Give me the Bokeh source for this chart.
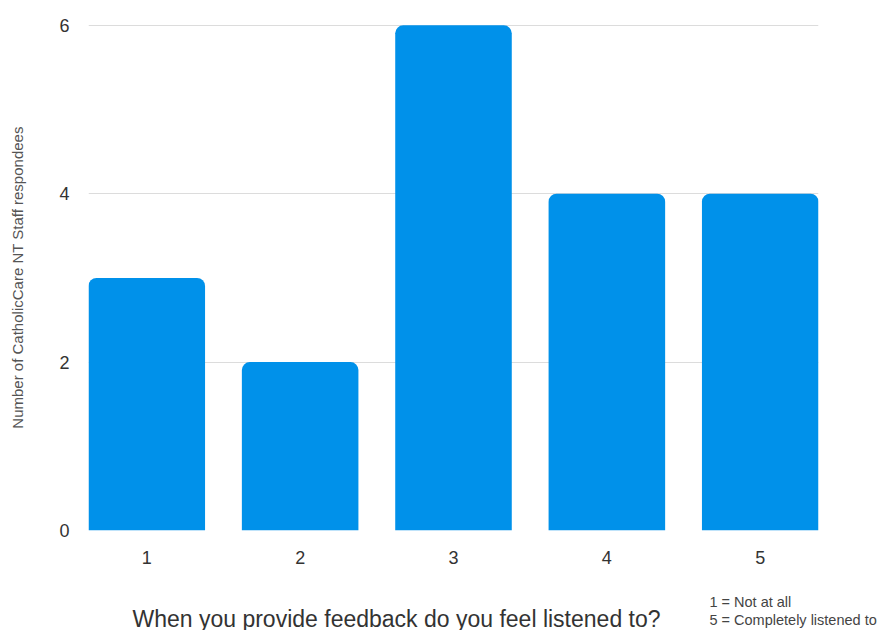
from bokeh.plotting import figure
from bokeh.layouts import column
from bokeh.models import Range1d, FixedTicker, ColumnDataSource
from bokeh.core.properties import value
from bokeh.embed import file_html
from bokeh.resources import INLINE

# Survey answers on a 1-5 scale and how many staff gave each
ratings = [1, 2, 3, 4, 5]
rating_labels = ["1", "2", "3", "4", "5"]
respondents = [3, 2, 6, 4, 4]
y_ticks = [0, 2, 4, 6]

question = "When you provide feedback do you feel listened to?"
scale_notes = ["1 = Not at all", "5 = Completely listened to"]
y_title = "Number of CatholicCare NT Staff respondees"

FONT = "Liberation Sans"
BAR_COLOR = "#0091EA"
W = 882
CHART_H = 575
FOOT_H = 55

p = figure(
    width=W, height=CHART_H,
    x_range=Range1d(0.62, 5.38), y_range=Range1d(0, 6.01),
    output_backend="svg", toolbar_location=None,
    min_border_left=88, min_border_right=64,
    min_border_top=24, min_border_bottom=45,
)
p.frame_align = False
p.outline_line_color = None
p.background_fill_color = "white"
p.border_fill_color = "white"

src = ColumnDataSource(dict(x=ratings, top=respondents))
p.vbar(x="x", top="top", bottom=0, width=0.76, source=src,
       fill_color=BAR_COLOR, line_color=None,
       border_radius=(8, 8, 0, 0))

# grid
p.xgrid.grid_line_color = None
p.ygrid.grid_line_color = "#dcdcdc"
p.ygrid.grid_line_width = 1.2
p.ygrid.level = "underlay"

# x axis
xa = p.xaxis[0]
xa.ticker = FixedTicker(ticks=ratings)
xa.major_label_overrides = {r: s for r, s in zip(ratings, rating_labels)}
xa.axis_line_color = None
xa.major_tick_line_color = None
xa.minor_tick_line_color = None
xa.major_label_text_font = FONT
xa.major_label_text_font_size = "18px"
xa.major_label_text_color = "#333333"
xa.major_label_standoff = 14

# y axis
ya = p.yaxis[0]
ya.ticker = FixedTicker(ticks=y_ticks)
ya.axis_line_color = None
ya.major_tick_line_color = None
ya.minor_tick_line_color = None
ya.major_label_text_font = FONT
ya.major_label_text_font_size = "18px"
ya.major_label_text_color = "#333333"
ya.major_label_standoff = 13
ya.axis_label = y_title
ya.axis_label_text_font = FONT
ya.axis_label_text_font_size = "15px"
ya.axis_label_text_font_style = "normal"
ya.axis_label_text_color = "#555555"
ya.axis_label_standoff = 30

# footer strip: the question and the scale explanation, in pixel coordinates
foot = figure(
    width=W, height=FOOT_H,
    x_range=Range1d(0, W), y_range=Range1d(0, FOOT_H),
    output_backend="svg", toolbar_location=None,
    x_axis_location=None, y_axis_location=None,
    min_border=0,
)
foot.frame_align = False
foot.outline_line_color = None
foot.xgrid.visible = False
foot.ygrid.visible = False

foot.text(x=[396], y=[12], text=[question],
          text_font=value(FONT), text_font_size="23px",
          text_color="#333333", text_align="center", text_baseline="alphabetic")
foot.text(x=[709, 709], y=[29, 11], text=scale_notes,
          text_font=value(FONT), text_font_size="14.5px",
          text_color="#444444", text_align="left", text_baseline="alphabetic")

layout = column(p, foot, spacing=0)
open("out.html", "w").write(file_html(layout, INLINE))
